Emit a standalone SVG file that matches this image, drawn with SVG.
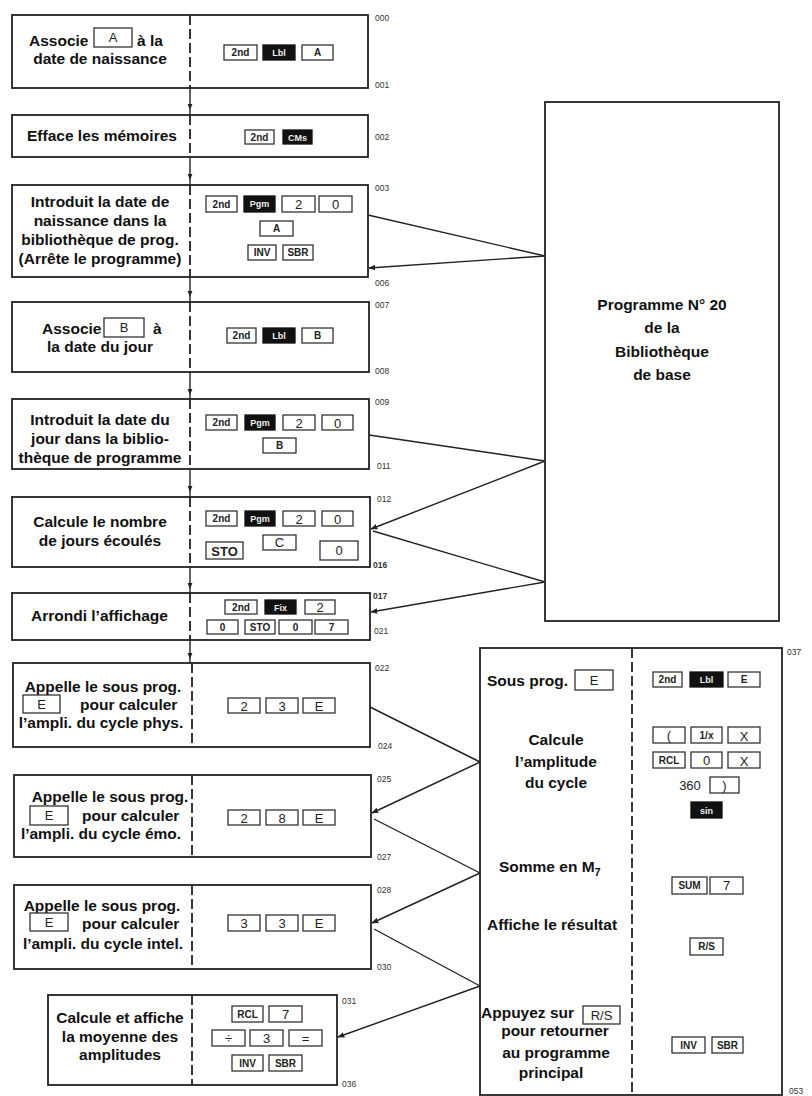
<svg xmlns="http://www.w3.org/2000/svg" width="812" height="1096" viewBox="0 0 812 1096">
<defs>
<style>
.box{fill:#fff;stroke:#222;stroke-width:1.8}
.dv{stroke:#222;stroke-width:1.8;stroke-dasharray:10 4;fill:none}
.t{font-family:"Liberation Sans",Arial,sans-serif;font-weight:bold;font-size:15.5px;fill:#111}
.m{text-anchor:middle}
.k{fill:#fff;stroke:#333;stroke-width:1.3}
.kb{fill:#111;stroke:#111;stroke-width:1.3}
.ks{font-family:"Liberation Sans",Arial,sans-serif;font-weight:bold;font-size:10px;fill:#222;text-anchor:middle}
.kd{font-family:"Liberation Sans",Arial,sans-serif;font-size:13px;fill:#222;text-anchor:middle}
.kw{font-family:"Liberation Sans",Arial,sans-serif;font-weight:bold;font-size:9px;fill:#eee;text-anchor:middle}
.lb{font-family:"Liberation Sans",Arial,sans-serif;font-size:8.5px;fill:#333}
.c{stroke:#222;stroke-width:1.4;fill:none}
</style>
<marker id="ah" viewBox="0 0 10 10" refX="9" refY="5" markerWidth="7" markerHeight="7" markerUnits="userSpaceOnUse" orient="auto"><path d="M0 1 L10 5 L0 9 Z" fill="#222"/></marker>
<marker id="am" viewBox="0 0 10 10" refX="5" refY="5" markerWidth="6" markerHeight="6" markerUnits="userSpaceOnUse" orient="auto"><path d="M0 1 L10 5 L0 9 Z" fill="#222"/></marker>
</defs>
<rect width="812" height="1096" fill="#fff"/>

<g id="connectors">
<path class="c" d="M190 88 V107 V115" marker-mid="url(#am)"/>
<path class="c" d="M190 157 V177 V185" marker-mid="url(#am)"/>
<path class="c" d="M190 277 V294 V302" marker-mid="url(#am)"/>
<path class="c" d="M190 372 V392 V399" marker-mid="url(#am)"/>
<path class="c" d="M190 469 V489 V497" marker-mid="url(#am)"/>
<path class="c" d="M190 567 V586 V593" marker-mid="url(#am)"/>
<path class="c" d="M190 640 V656 V663" marker-mid="url(#am)"/>
<path class="c" d="M368 215 L545 256"/>
<path class="c" d="M545 256 L369 268" marker-end="url(#ah)"/>
<path class="c" d="M369 435 L545 461"/>
<path class="c" d="M545 461 L371 529" marker-end="url(#ah)"/>
<path class="c" d="M373 531 L545 582"/>
<path class="c" d="M545 582 L371 612" marker-end="url(#ah)"/>
<path class="c" d="M370 707 L480 762"/>
<path class="c" d="M480 762 L372 813" marker-end="url(#ah)"/>
<path class="c" d="M374 819 L480 873"/>
<path class="c" d="M480 873 L372 923" marker-end="url(#ah)"/>
<path class="c" d="M374 929 L480 986"/>
<path class="c" d="M480 986 L338 1037" marker-end="url(#ah)"/>
</g>

<g id="n1">
<rect class="box" x="12" y="15" width="356" height="73"/>
<line class="dv" x1="190" y1="15" x2="190" y2="88"/>
<text class="t" x="29" y="46">Associe</text>
<rect class="k" x="94" y="28" width="38" height="19"/><text class="kd" x="113" y="42">A</text>
<text class="t" x="137" y="46">à la</text>
<text class="t m" x="100" y="64">date de naissance</text>
<rect class="k" x="224" y="45" width="33" height="15"/><text class="ks" x="240.5" y="56">2nd</text>
<rect class="kb" x="263" y="45" width="32" height="15"/><text class="kw" x="279" y="56">Lbl</text>
<rect class="k" x="302" y="45" width="31" height="15"/><text class="ks" x="317.5" y="56">A</text>
<text class="lb" x="375" y="21">000</text>
<text class="lb" x="375" y="88">001</text>
</g>

<g id="n2">
<rect class="box" x="12" y="115" width="356" height="42"/>
<line class="dv" x1="190" y1="115" x2="190" y2="157"/>
<text class="t" x="27" y="141">Efface les mémoires</text>
<rect class="k" x="245" y="130" width="29" height="14"/><text class="ks" x="259.5" y="140.5">2nd</text>
<rect class="kb" x="283" y="130" width="29" height="14"/><text class="kw" x="297.5" y="140.5">CMs</text>
<text class="lb" x="375" y="140">002</text>
</g>

<g id="n3">
<rect class="box" x="12" y="185" width="356" height="92"/>
<line class="dv" x1="190" y1="185" x2="190" y2="277"/>
<text class="t m" x="100" y="207">Introduit la date de</text>
<text class="t m" x="100" y="226">naissance dans la</text>
<text class="t m" x="100" y="245">bibliothèque de prog.</text>
<text class="t m" x="100" y="264">(Arrête le programme)</text>
<rect class="k" x="206" y="196" width="31" height="16"/><text class="ks" x="221.5" y="207.5">2nd</text>
<rect class="kb" x="244" y="196" width="31" height="16"/><text class="kw" x="259.5" y="207">Pgm</text>
<rect class="k" x="282" y="196" width="33" height="16"/><text class="kd" x="298.5" y="209">2</text>
<rect class="k" x="319" y="196" width="33" height="16"/><text class="kd" x="335.5" y="209">0</text>
<rect class="k" x="260" y="221" width="33" height="15"/><text class="ks" x="276.5" y="232">A</text>
<rect class="k" x="248" y="245" width="28" height="15"/><text class="ks" x="262" y="256">INV</text>
<rect class="k" x="283" y="245" width="30" height="15"/><text class="ks" x="298" y="256">SBR</text>
<text class="lb" x="375" y="191">003</text>
<text class="lb" x="375" y="286">006</text>
</g>

<g id="n4">
<rect class="box" x="12" y="302" width="357" height="70"/>
<line class="dv" x1="190" y1="302" x2="190" y2="372"/>
<text class="t" x="42" y="334">Associe</text>
<rect class="k" x="104" y="318" width="40" height="19"/><text class="kd" x="124" y="332">B</text>
<text class="t" x="153" y="334">à</text>
<text class="t m" x="100" y="352">la date du jour</text>
<rect class="k" x="227" y="328" width="29" height="15"/><text class="ks" x="241.5" y="339">2nd</text>
<rect class="kb" x="263" y="328" width="32" height="15"/><text class="kw" x="279" y="339">Lbl</text>
<rect class="k" x="302" y="328" width="31" height="15"/><text class="ks" x="317.5" y="339">B</text>
<text class="lb" x="375" y="308">007</text>
<text class="lb" x="375" y="374">008</text>
</g>

<g id="n5">
<rect class="box" x="12" y="399" width="357" height="70"/>
<line class="dv" x1="190" y1="399" x2="190" y2="469"/>
<text class="t m" x="100" y="425">Introduit la date du</text>
<text class="t m" x="100" y="444">jour dans la biblio-</text>
<text class="t m" x="100" y="463">thèque de programme</text>
<rect class="k" x="206" y="415" width="31" height="15"/><text class="ks" x="221.5" y="426">2nd</text>
<rect class="kb" x="245" y="415" width="30" height="15"/><text class="kw" x="260" y="426">Pgm</text>
<rect class="k" x="283" y="415" width="32" height="15"/><text class="kd" x="299" y="427.5">2</text>
<rect class="k" x="322" y="415" width="31" height="15"/><text class="kd" x="337.5" y="427.5">0</text>
<rect class="k" x="263" y="438" width="33" height="15"/><text class="ks" x="279.5" y="449">B</text>
<text class="lb" x="375" y="405">009</text>
<text class="lb" x="377" y="469">011</text>
</g>

<g id="n6">
<rect class="box" x="12" y="497" width="358" height="70"/>
<line class="dv" x1="190" y1="497" x2="190" y2="567"/>
<text class="t m" x="100" y="527">Calcule le nombre</text>
<text class="t m" x="100" y="546">de jours écoulés</text>
<rect class="k" x="206" y="511" width="31" height="15"/><text class="ks" x="221.5" y="522">2nd</text>
<rect class="kb" x="245" y="511" width="30" height="15"/><text class="kw" x="260" y="522">Pgm</text>
<rect class="k" x="283" y="511" width="32" height="15"/><text class="kd" x="299" y="523.5">2</text>
<rect class="k" x="322" y="511" width="31" height="15"/><text class="kd" x="337.5" y="523.5">0</text>
<rect class="k" x="206" y="542" width="37" height="17"/><text class="kd" x="224.5" y="555.5" font-weight="bold">STO</text>
<rect class="k" x="263" y="535" width="33" height="15"/><text class="kd" x="279.5" y="547">C</text>
<rect class="k" x="320" y="541" width="38" height="19"/><text class="kd" x="339" y="555">0</text>
<text class="lb" x="377" y="502">012</text>
<text class="lb" x="373" y="568" font-size="10" font-weight="bold">016</text>
</g>

<g id="n7">
<rect class="box" x="12" y="593" width="358" height="47"/>
<line class="dv" x1="190" y1="593" x2="190" y2="640"/>
<text class="t" x="31" y="621">Arrondi l’affichage</text>
<rect class="k" x="225" y="600" width="32" height="14"/><text class="ks" x="241" y="610.5">2nd</text>
<rect class="kb" x="265" y="600" width="31" height="14"/><text class="kw" x="280.5" y="610.5">Fix</text>
<rect class="k" x="305" y="600" width="30" height="14"/><text class="kd" x="320" y="612">2</text>
<rect class="k" x="207" y="620" width="31" height="14"/><text class="ks" x="222.5" y="631">0</text>
<rect class="k" x="245" y="620" width="30" height="14"/><text class="ks" x="260" y="631">STO</text>
<rect class="k" x="279" y="620" width="33" height="14"/><text class="ks" x="295.5" y="631">0</text>
<rect class="k" x="315" y="620" width="33" height="14"/><text class="ks" x="331.5" y="631">7</text>
<text class="lb" x="373" y="599" font-size="10" font-weight="bold">017</text>
<text class="lb" x="374" y="634">021</text>
</g>

<g id="n8">
<rect class="box" x="13" y="663" width="357" height="84"/>
<line class="dv" x1="192" y1="663" x2="192" y2="747"/>
<text class="t m" x="103" y="692">Appelle le sous prog.</text>
<rect class="k" x="23" y="695" width="37" height="18"/><text class="kd" x="41.5" y="709">E</text>
<text class="t" x="80" y="710">pour calculer</text>
<text class="t m" x="101" y="728">l’ampli. du cycle phys.</text>
<rect class="k" x="228" y="698" width="32" height="15"/><text class="kd" x="244" y="710.5">2</text>
<rect class="k" x="266" y="698" width="32" height="15"/><text class="kd" x="282" y="710.5">3</text>
<rect class="k" x="303" y="698" width="32" height="15"/><text class="kd" x="319" y="710.5">E</text>
<text class="lb" x="375" y="671">022</text>
<text class="lb" x="378" y="749">024</text>
</g>

<g id="n9">
<rect class="box" x="14" y="775" width="357" height="82"/>
<line class="dv" x1="192" y1="775" x2="192" y2="857"/>
<text class="t m" x="110" y="802">Appelle le sous prog.</text>
<rect class="k" x="30" y="806" width="38" height="19"/><text class="kd" x="49" y="820">E</text>
<text class="t" x="82" y="821">pour calculer</text>
<text class="t m" x="101" y="839">l’ampli. du cycle émo.</text>
<rect class="k" x="228" y="810" width="32" height="15"/><text class="kd" x="244" y="822.5">2</text>
<rect class="k" x="266" y="810" width="32" height="15"/><text class="kd" x="282" y="822.5">8</text>
<rect class="k" x="303" y="810" width="32" height="15"/><text class="kd" x="319" y="822.5">E</text>
<text class="lb" x="377" y="782">025</text>
<text class="lb" x="377" y="860">027</text>
</g>

<g id="n10">
<rect class="box" x="14" y="885" width="357" height="84"/>
<line class="dv" x1="192" y1="885" x2="192" y2="969"/>
<text class="t m" x="102" y="911">Appelle le sous prog.</text>
<rect class="k" x="30" y="913" width="38" height="18"/><text class="kd" x="49" y="927">E</text>
<text class="t" x="82" y="929">pour calculer</text>
<text class="t m" x="103" y="949">l’ampli. du cycle intel.</text>
<rect class="k" x="228" y="915" width="32" height="16"/><text class="kd" x="244" y="928">3</text>
<rect class="k" x="266" y="915" width="32" height="16"/><text class="kd" x="282" y="928">3</text>
<rect class="k" x="303" y="915" width="32" height="16"/><text class="kd" x="319" y="928">E</text>
<text class="lb" x="377" y="893">028</text>
<text class="lb" x="377" y="970">030</text>
</g>

<g id="n11">
<rect class="box" x="48" y="995" width="289" height="90"/>
<line class="dv" x1="192" y1="995" x2="192" y2="1085"/>
<text class="t m" x="120" y="1023">Calcule et affiche</text>
<text class="t m" x="120" y="1042">la moyenne des</text>
<text class="t m" x="120" y="1060">amplitudes</text>
<rect class="k" x="232" y="1006" width="31" height="16"/><text class="ks" x="247.5" y="1017.5">RCL</text>
<rect class="k" x="269" y="1006" width="33" height="16"/><text class="kd" x="285.5" y="1019">7</text>
<rect class="k" x="212" y="1030" width="33" height="16"/><text class="kd" x="228.5" y="1043">÷</text>
<rect class="k" x="250" y="1030" width="33" height="16"/><text class="kd" x="266.5" y="1043">3</text>
<rect class="k" x="289" y="1030" width="33" height="16"/><text class="kd" x="305.5" y="1043">=</text>
<rect class="k" x="232" y="1055" width="31" height="16"/><text class="ks" x="247.5" y="1066.5">INV</text>
<rect class="k" x="269" y="1055" width="33" height="16"/><text class="ks" x="285.5" y="1066.5">SBR</text>
<text class="lb" x="342" y="1004">031</text>
<text class="lb" x="342" y="1087">036</text>
</g>

<g id="biblio">
<rect class="box" x="545" y="102" width="234" height="519"/>
<text class="t m" x="662" y="310">Programme N° 20</text>
<text class="t m" x="662" y="333">de la</text>
<text class="t m" x="662" y="357">Bibliothèque</text>
<text class="t m" x="662" y="380">de base</text>
</g>

<g id="sub">
<rect class="box" x="480" y="648" width="302" height="447"/>
<line class="dv" x1="632" y1="648" x2="632" y2="1095"/>
<text class="t" x="487" y="686">Sous prog.</text>
<rect class="k" x="575" y="670" width="38" height="20"/><text class="kd" x="594" y="684.5">E</text>
<rect class="k" x="653" y="672" width="29" height="15"/><text class="ks" x="667.5" y="683">2nd</text>
<rect class="kb" x="690" y="672" width="33" height="15"/><text class="kw" x="706.5" y="683">Lbl</text>
<rect class="k" x="728" y="672" width="32" height="15"/><text class="ks" x="744" y="683">E</text>
<text class="t m" x="556" y="745">Calcule</text>
<text class="t m" x="556" y="767">l’amplitude</text>
<text class="t m" x="556" y="788">du cycle</text>
<rect class="k" x="653" y="727" width="32" height="16"/><text class="kd" x="669" y="740">(</text>
<rect class="k" x="691" y="727" width="31" height="16"/><text class="ks" x="706.5" y="739">1/x</text>
<rect class="k" x="728" y="727" width="32" height="16"/><text class="kd" x="744" y="740.5" font-size="15">X</text>
<rect class="k" x="653" y="752" width="32" height="16"/><text class="ks" x="669" y="764">RCL</text>
<rect class="k" x="691" y="752" width="31" height="16"/><text class="kd" x="706.5" y="765">0</text>
<rect class="k" x="728" y="752" width="32" height="16"/><text class="kd" x="744" y="765.5" font-size="15">X</text>
<text class="kd" x="690" y="790" font-size="14">360</text>
<rect class="k" x="710" y="777" width="29" height="16"/><text class="kd" x="724.5" y="790">)</text>
<rect class="kb" x="691" y="802" width="31" height="16"/><text class="kw" x="706.5" y="813.5">sin</text>
<text class="t" x="499" y="872">Somme en M<tspan font-size="11" dy="4">7</tspan></text>
<rect class="k" x="672" y="877" width="35" height="17"/><text class="ks" x="689.5" y="889">SUM</text>
<rect class="k" x="710" y="877" width="33" height="17"/><text class="kd" x="726.5" y="890">7</text>
<text class="t" x="487" y="930">Affiche le résultat</text>
<rect class="k" x="690" y="938" width="33" height="17"/><text class="ks" x="706.5" y="950">R/S</text>
<text class="t" x="481" y="1018">Appuyez sur</text>
<rect class="k" x="583" y="1006" width="37" height="18"/><text class="kd" x="601.5" y="1020">R/S</text>
<text class="t m" x="555" y="1036">pour retourner</text>
<text class="t m" x="556" y="1058">au programme</text>
<text class="t m" x="551" y="1078">principal</text>
<rect class="k" x="672" y="1037" width="33" height="16"/><text class="ks" x="688.5" y="1049">INV</text>
<rect class="k" x="712" y="1037" width="31" height="16"/><text class="ks" x="727.5" y="1049">SBR</text>
<text class="lb" x="787" y="655">037</text>
<text class="lb" x="789" y="1094">053</text>
</g>
</svg>
